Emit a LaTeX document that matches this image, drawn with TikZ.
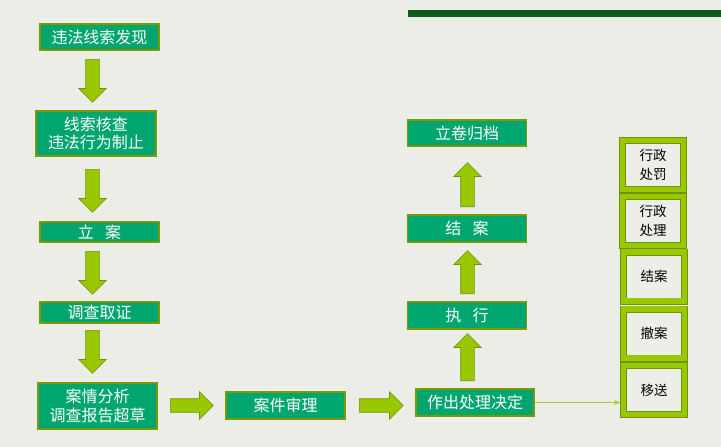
\documentclass[tikz,border=0pt]{standalone}
\usepackage{fontspec}
\setmainfont{Noto Sans CJK SC}
\usetikzlibrary{arrows.meta,shapes.arrows,calc}
\definecolor{Paper}{HTML}{EDEDE8}
\definecolor{Bar}{HTML}{0A5E17}
\definecolor{Box}{HTML}{00A66E}
\definecolor{Rim}{HTML}{7A9A01}
\definecolor{Leaf}{HTML}{99C800}
\definecolor{LeafDark}{HTML}{6F9400}
\definecolor{Pale}{HTML}{EEEEE9}

\begin{document}
\begin{tikzpicture}[x=1pt,y=-1pt,
  stage/.style={rectangle,draw=Rim,line width=1.2pt,fill=Box,text=white,minimum width=119pt,minimum height=27pt,inner sep=0pt,font=\fontsize{16}{18.5}\selectfont,align=center},
  outcome/.style={rectangle,draw=LeafDark,double=Leaf,double distance=5.4pt,line width=0.8pt,fill=Pale,minimum width=61pt,minimum height=49pt,inner sep=0pt,font=\fontsize{13.5}{19}\selectfont,align=center},
  blockarrow/.style={single arrow,draw=LeafDark,fill=Leaf,line width=0.6pt,inner sep=6.5pt,single arrow head extend=7pt,anchor=tail},
  thinline/.style={draw=Leaf!85!white,line width=0.7pt,-{Latex[length=6pt,width=5pt]},shorten >=2.5pt}
]
\useasboundingbox (0,0) rectangle (721,447);
\fill[Paper] (0,0) rectangle (721,447);
\fill[Bar] (408,10) rectangle (721,17);
% flow boxes
\node[stage,minimum height=26pt] (find) at (99.5,37) {违法线索发现};
\node[stage,minimum width=120pt,minimum height=45pt] (check) at (96,133.5) {线索核查\\违法行为制止};
\node[stage,minimum height=20pt] (open) at (99.5,232) {立\hspace{0.7em}案};
\node[stage,minimum height=21pt] (probe) at (99.5,312.5) {调查取证};
\node[stage,minimum height=46pt] (report) at (97.5,406) {案情分析\\调查报告超草};
\node[stage] (review) at (285.5,405.5) {案件审理};
\node[stage,minimum width=118pt] (decide) at (475,402.5) {作出处理决定};
\node[stage] (exec) at (467,315.5) {执\hspace{0.7em}行};
\node[stage] (close) at (467,228.5) {结\hspace{0.7em}案};
\node[stage,minimum height=26pt] (archive) at (467,133) {立卷归档};
% possible outcomes
\node[outcome] (fine) at (653,165) {行政\\处罚};
\node[outcome] (admin) at (653,221) {行政\\处理};
\node[outcome] (closed) at (654,276.5) {结案};
\node[outcome] (drop) at (654,333.5) {撤案};
\node[outcome] (transfer) at (654,390) {移送};
% block arrows
\foreach \name/\x/\y/\dir/\len in {d1/92.5/59/270/43,d2/92.5/169/270/43,d3/92.5/251/270/43,d4/92.5/330/270/43,
  r1/170/405.5/0/43,r2/359/405.5/0/44,u1/467.5/381/90/47,u2/467.5/294/90/43,u3/467.5/207/90/44} {
  \node[blockarrow,shape border rotate=\dir,minimum height=\len pt] (\name) at (\x,\y) {};
}
\draw[thinline] (decide.east) -- (decide.east -| transfer.west);
\end{tikzpicture}
\end{document}
